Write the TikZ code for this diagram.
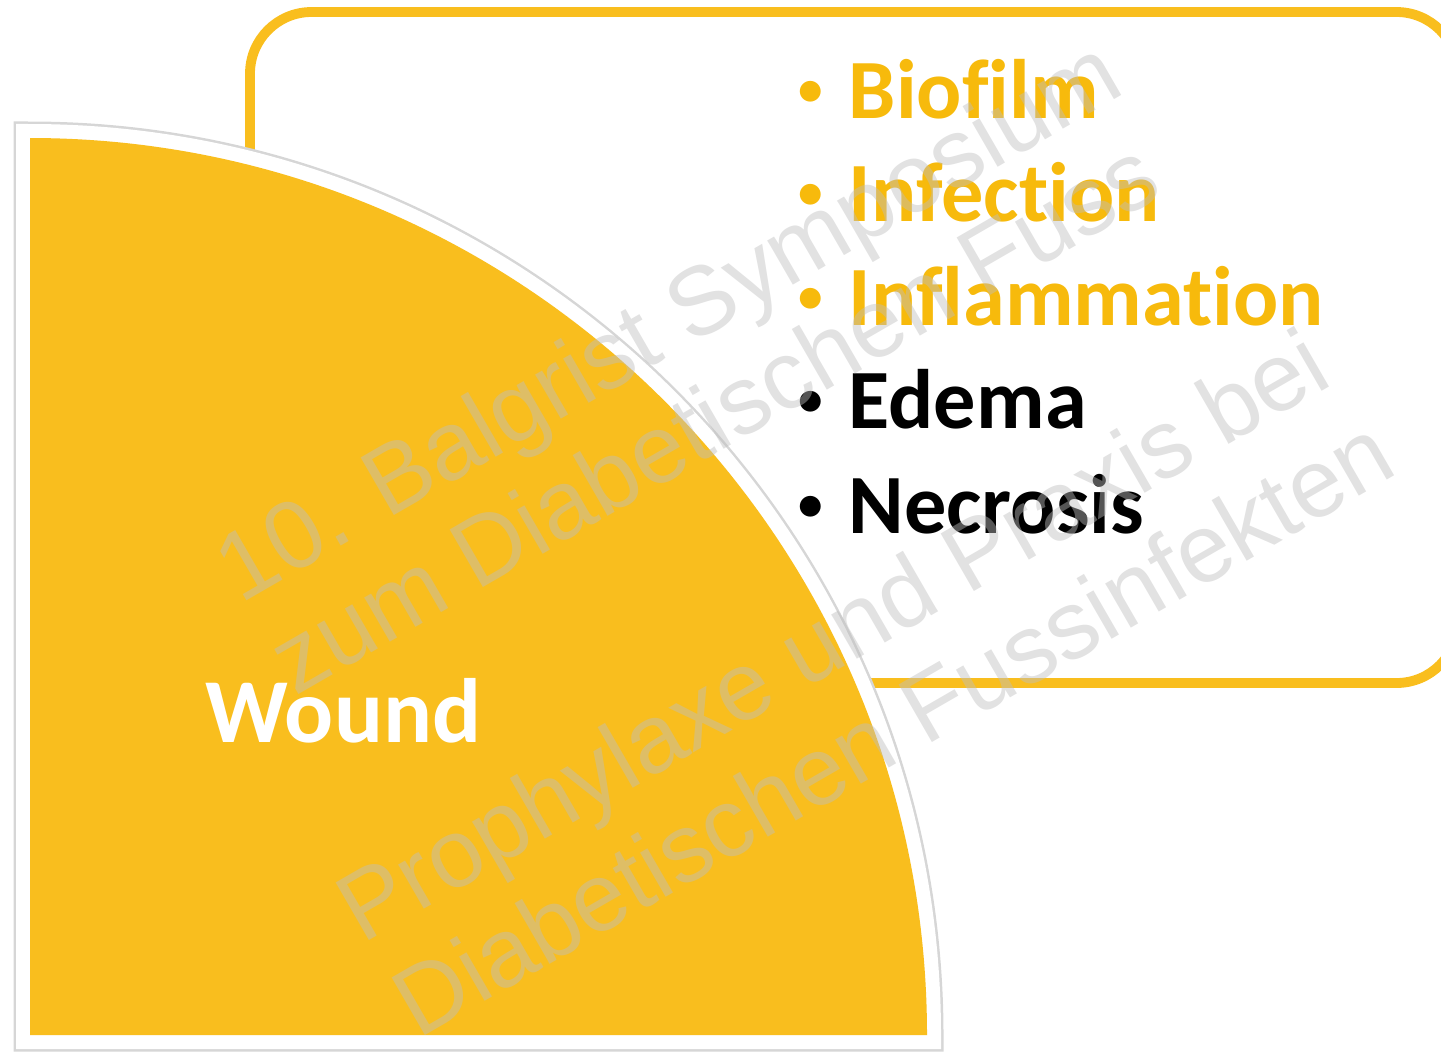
\documentclass[tikz,border=0pt]{standalone}
\usepackage{fontspec}
\setmainfont{Carlito}[Ligatures=NoCommon]
\newfontfamily\markfont{Liberation Sans}
\usetikzlibrary{positioning}
\definecolor{woundFill}{RGB}{249,190,30}
\definecolor{woundText}{RGB}{247,186,12}
\definecolor{markGray}{RGB}{190,190,190}
\tikzset{
    frame/.style={draw=woundFill, line width=2.8pt, rounded corners=17.5pt},
    sectorfill/.style={fill=woundFill},
    sectorrim/.style={draw=white, line width=0.28cm},
    sectorshade/.style={draw=black!16, line width=0.33cm},
    itembase/.style={font=\bfseries\fontsize{24}{28}\selectfont, anchor=base west, inner sep=0pt},
    hotitem/.style={itembase, text=woundText},
    plainitem/.style={itembase, text=black},
    woundlbl/.style={font=\bfseries\fontsize{26}{30}\selectfont, text=white, anchor=base west, inner sep=0pt},
    wmark/.style={font=\markfont\fontsize{27.5}{30}\selectfont, text=markGray, opacity=0.45,
        rotate=30, anchor=base west, inner sep=0pt}
}
\newcommand{\bul}{\llap{\raisebox{3.6pt}{\fontsize{14}{14}\selectfont\textbullet}\hspace{0.26cm}}}

\begin{document}
\begin{tikzpicture}
  \useasboundingbox (0,0) rectangle (14.41,10.55);
  \clip (0,0) rectangle (14.41,10.55);
  % outline box behind the quarter disc
  \draw[frame] (2.50,10.43) rectangle (14.58,3.72);
  % quarter disc with white rim
  \draw[sectorshade] (0.30,0.20) -- (9.27,0.20) arc (0:90:8.97) -- cycle;
  \draw[sectorrim] (0.30,0.20) -- (9.27,0.20) arc (0:90:8.97) -- cycle;
  \fill[sectorfill] (0.30,0.20) -- (9.27,0.20) arc (0:90:8.97) -- cycle;
  \node[woundlbl] (wound) at (2.05,3.13) {Wound};
  % list
  \node[hotitem] (biofilm) at (8.48,9.37) {\bul Biofilm};
  \node[hotitem] (infect) at (8.48,8.34) {\bul Infection};
  \node[hotitem] (inflam) at (8.48,7.30) {\bul Inflammation};
  \node[plainitem] (edema) at (8.48,6.27) {\bul Edema};
  \node[plainitem] (necro) at (8.48,5.22) {\bul Necrosis};
  % watermark
  \node[wmark] (wmA) at (2.40,4.50) {10. Balgrist Symposium};
  \node[wmark] (wmB) at (2.95,3.58) {zum Diabetischen Fuss};
  \node[wmark] (wmC) at (3.62,1.10) {Prophylaxe und Praxis bei};
  \node[wmark] (wmD) at (4.18,0.15) {Diabetischen Fussinfekten};
\end{tikzpicture}
\end{document}
